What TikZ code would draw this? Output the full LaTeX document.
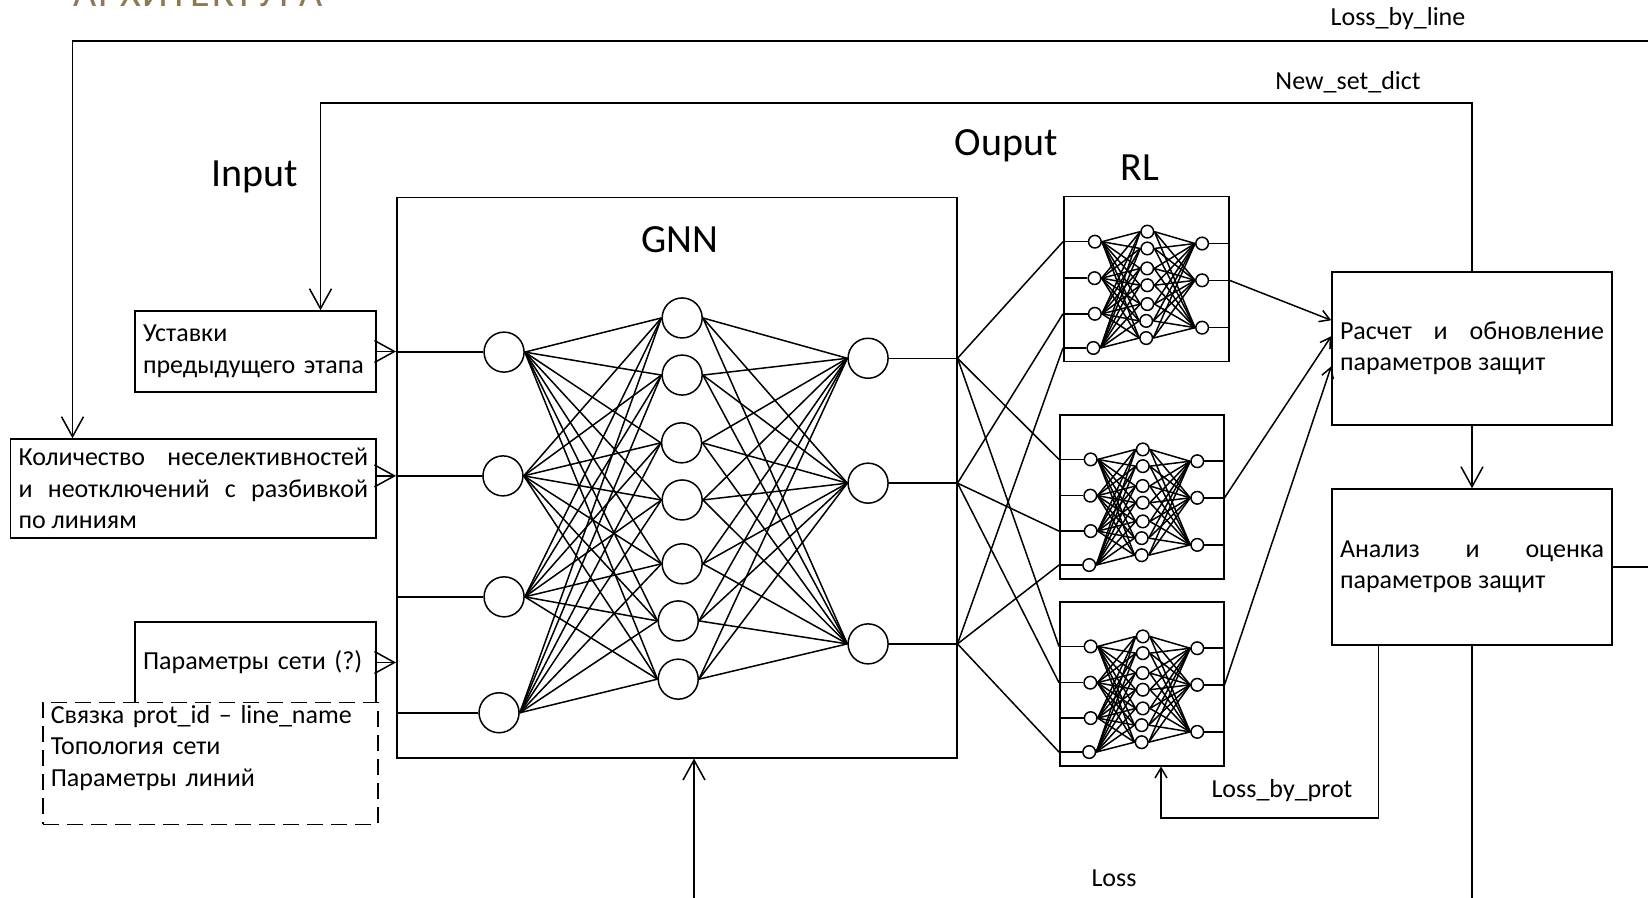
\documentclass[tikz,border=0pt]{standalone}
\usepackage{fontspec}
\setmainfont{Carlito}
\usetikzlibrary{arrows.meta,calc}
\definecolor{titlebrown}{RGB}{139,123,85}

\begin{document}
\begin{tikzpicture}[x=0.5pt,y=-0.5pt,line width=0.75pt,
	bigarr/.style={-{Straight Barb[length=10pt,width=11pt]}},
	smallarr/.style={-{Straight Barb[length=5pt,width=6pt]}},
	neuron/.style={draw,circle,inner sep=0pt},
	box/.style={draw,inner xsep=4pt,inner ysep=0pt,font=\fontsize{13}{15.75}\selectfont},
	dashbox/.style={dash pattern=on 8pt off 4pt},
	lbl/.style={font=\fontsize{13}{15.75}\selectfont},
	big/.style={font=\fontsize{20}{24}\selectfont}]
		\useasboundingbox (0,0) rectangle (1648,898);
		\clip (0,0) rectangle (1648,898);
		\node[font=\fontsize{20}{24}\selectfont\addfontfeatures{LetterSpace=4},text=titlebrown,anchor=base west,inner sep=0pt] (ttl) at (73,7) {АРХИТЕКТУРА};

		\foreach \nm/\bx/\by/\bw/\nd in {gnn/396/197/560/20pt,rla/1063/196/165/6.3pt,rlb/1059/414/164/6.3pt,rlc/1059/601/164/6.3pt} {
			\node[draw,anchor=north west,minimum size=\bw*0.5pt,inner sep=0pt] (\nm) at (\bx,\by) {};
			\foreach \xx/\yy [count=\i] in {0.193/0.277,0.191/0.498,0.193/0.714,0.184/0.921}
				\node[neuron,minimum size=\nd] (\nm-i\i) at ({\bx+\xx*\bw},{\by+\yy*\bw}) {};
			\foreach \xx/\yy [count=\j] in {0.511/0.216,0.511/0.318,0.510/0.439,0.511/0.541,0.511/0.655,0.504/0.757,0.504/0.861}
				\node[neuron,minimum size=\nd] (\nm-h\j) at ({\bx+\xx*\bw},{\by+\yy*\bw}) {};
			\foreach \xx/\yy [count=\k] in {0.843/0.288,0.843/0.511,0.843/0.798}
				\node[neuron,minimum size=\nd] (\nm-o\k) at ({\bx+\xx*\bw},{\by+\yy*\bw}) {};
			\foreach \i in {1,...,4} {
				\draw (\nm.west |- \nm-i\i) -- (\nm-i\i.west);
				\foreach \j in {1,...,7} \draw (\nm-i\i.east) -- (\nm-h\j.west);
			}
			\foreach \k in {1,2,3} {
				\draw (\nm-o\k.east) -- (\nm.east |- \nm-o\k);
				\foreach \j in {1,...,7} \draw (\nm-h\j.east) -- (\nm-o\k.west);
			}
		}
		\node[big] (gnnlbl) at (680,240) {GNN};
		\node[big] (inlbl) at (255,177) {Input};
		\node[big] (outlbl) at (1006,146) {Ouput};
		\node[big] (rllbl) at (1140,168) {RL};

		\node[box,text width=112.5pt,minimum height=40.5pt,align=left] (ust) at (255.5,351.5) {Уставки\\предыдущего этапа};
		\node[box,text width=174.75pt,minimum height=49.5pt,align=justify] (kol) at (193.25,488.5) {Количество неселективностей\linebreak и неотключений с разбивкой\linebreak по линиям};
		\node[box,text width=112.5pt,minimum height=40.5pt,align=left] (par) at (255.5,662.5) {Параметры сети (?)};
		\node[box,dashbox,fill=white,anchor=north west,text width=159.5pt,align=left,inner ysep=1pt,text height=9.5pt,text depth=49.5pt] (dsh) at (42,701.5) {Связка prot\_id – line\_name\\Топология сети\\Параметры линий};
		\node[box,text width=132pt,minimum height=76.5pt,align=justify] (upd) at (1472,348.5) {Расчет и обновление\linebreak параметров защит};
		\node[box,text width=132pt,minimum height=78pt,align=justify] (anl) at (1472,567) {Анализ и оценка\linebreak параметров защит};

		\draw[bigarr] (ust.east) -- (ust.east -| gnn.west);
		\draw[bigarr] (kol.east |- gnn-i2) -- (gnn.west |- gnn-i2);
		\draw[bigarr] (par.east) -- (par.east -| gnn.west);

		\foreach \o/\r/\k in {1/rla/1,1/rlb/1,1/rlc/1,2/rla/3,2/rlb/3,2/rlc/2,3/rla/4,3/rlb/4,3/rlc/4}
			\draw (gnn.east |- gnn-o\o) -- (\r.west |- \r-i\k);

		\draw[smallarr] (rla.east |- rla-o2) -- ($(upd.north west)+(0,49)$);
		\draw[smallarr] (rlb.east |- rlb-o2) -- ($(upd.north west)+(0,65)$);
		\draw[smallarr] (rlc.east |- rlc-o2) -- ($(upd.north west)+(0,95)$);
		\draw[bigarr] (upd.south) -- (anl.north);

		\coordinate (nsd) at (320.5,103);
		\draw[bigarr] (upd.north) |- (nsd) -- (nsd |- ust.north);
		\node[lbl] (nsdlbl) at (1348,82) {New\_set\_dict};

		\coordinate (lbr) at (1680,41);
		\coordinate (lbl) at (72.5,41);
		\draw[bigarr] (anl.east) -| (lbr) -- (lbl) -- (lbl |- kol.north);
		\node[lbl] (lbllbl) at (1398,19) {Loss\_by\_line};

		\coordinate (lbp) at (1161,818);
		\draw[smallarr] ($(anl.south west)+(47,0)$) |- (lbp) -- (lbp |- rlc.south);
		\node[lbl] (lbplbl) at (1282,791) {Loss\_by\_prot};

		\coordinate (lossr) at (1472,940);
		\coordinate (lossl) at (694,940);
		\draw[bigarr] (anl.south) -- (lossr) -- (lossl) -- (lossl |- gnn.south);
		\node[lbl] (losslbl) at (1114,878) {Loss};
\end{tikzpicture}
\end{document}
